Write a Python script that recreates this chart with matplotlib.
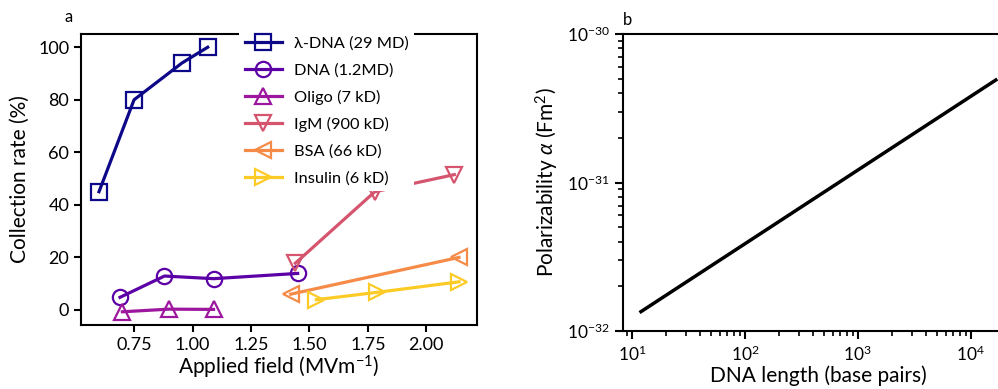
import matplotlib
matplotlib.use("Agg")
import matplotlib.pyplot as plt
import numpy as np

plt.rcParams["font.family"] = ["Lato", "DejaVu Sans"]
plt.rcParams["mathtext.fontset"] = "custom"
plt.rcParams["mathtext.rm"] = "Lato"
plt.rcParams["mathtext.it"] = "Lato:italic"
plt.rcParams["mathtext.default"] = "regular"

# panel a data: applied field (MV/m) vs collection rate (%)
lam_x = [0.60, 0.75, 0.955, 1.065]
lam_y = [45, 80, 94, 100]
dna_x = [0.69, 0.88, 1.09, 1.45]
dna_y = [4.8, 12.9, 11.9, 13.9]
oligo_x = [0.70, 0.90, 1.09]
oligo_y = [-0.7, 0.3, 0.2]
igm_x = [1.44, 1.78, 2.12]
igm_y = [17.8, 45.0, 51.5]
bsa_x = [1.42, 2.14]
bsa_y = [6.0, 20.0]
ins_x = [1.53, 1.79, 2.14]
ins_y = [3.9, 6.7, 10.7]

labels = ["λ-DNA (29 MD)", "DNA (1.2MD)", "Oligo (7 kD)",
          "IgM (900 kD)", "BSA (66 kD)", "Insulin (6 kD)"]
markers = ["s", "o", "^", "v", "<", ">"]
colors = ["#0d0887", "#5c01a6", "#9c179e", "#d5546e", "#f58b47", "#fccb26"]

# panel b data: DNA length (bp) vs polarizability (F m^2)
bp = [12, 16700]
alpha = [1.35e-32, 4.9e-31]

fig = plt.figure(figsize=(9.98, 3.89), dpi=100)

# panel a
ax1 = fig.add_axes([81 / 998, 1 - 325 / 389, 396 / 998, 291 / 389])
series = [(lam_x, lam_y), (dna_x, dna_y), (oligo_x, oligo_y),
          (igm_x, igm_y), (bsa_x, bsa_y), (ins_x, ins_y)]
for (xs, ys), lab, m, c in zip(series, labels, markers, colors):
    ax1.plot(xs, ys, marker=m, color=c, label=lab, lw=2.3, ms=11,
             mfc="none", mec=c, mew=1.6)
ax1.set_xticks([0.75, 1.00, 1.25, 1.50, 1.75, 2.00])
ax1.set_xticklabels(["0.75", "1.00", "1.25", "1.50", "1.75", "2.00"])
ax1.set_yticks([0, 20, 40, 60, 80, 100])
ax1.set_xlabel(r"Applied field (MVm$^{-1}$)", fontsize=15, labelpad=1)
ax1.set_ylabel("Collection rate (%)", fontsize=15, labelpad=6)
ax1.tick_params(labelsize=13, width=1.5, length=5)
for s in ax1.spines.values():
    s.set_linewidth(1.5)
leg = ax1.legend(loc="upper left", bbox_to_anchor=(0.378, 1.04),
                 fontsize=11.8, frameon=True, framealpha=1, edgecolor="none",
                 fancybox=False, handlelength=2.3, labelspacing=0.75,
                 borderpad=0.35, handletextpad=0.7)
leg.set_zorder(10)
ax1.text(-0.02, 1.03, "a", transform=ax1.transAxes, fontsize=12,
         ha="right", va="bottom")

# panel b
ax2 = fig.add_axes([623 / 998, 1 - 331 / 389, 390 / 998, 297 / 389])
ax2.loglog(bp, alpha, color="black", lw=2.5)
ax2.set_xlim(10 ** 0.92, 10 ** 4.375)
ax2.set_ylim(1e-32, 1e-30)
ax2.set_xlabel("DNA length (base pairs)", fontsize=15, labelpad=1)
ax2.set_ylabel(r"Polarizability $\mathit{\alpha}$ (Fm$^2$)", fontsize=15)
ax2.tick_params(which="major", labelsize=12.5, width=1.5, length=6)
ax2.tick_params(which="minor", width=1.2, length=3.5)
for s in ax2.spines.values():
    s.set_linewidth(1.5)
ax2.text(0.0, 1.02, "b", transform=ax2.transAxes, fontsize=12,
         ha="left", va="bottom")

fig.savefig("out.png", dpi=100)
